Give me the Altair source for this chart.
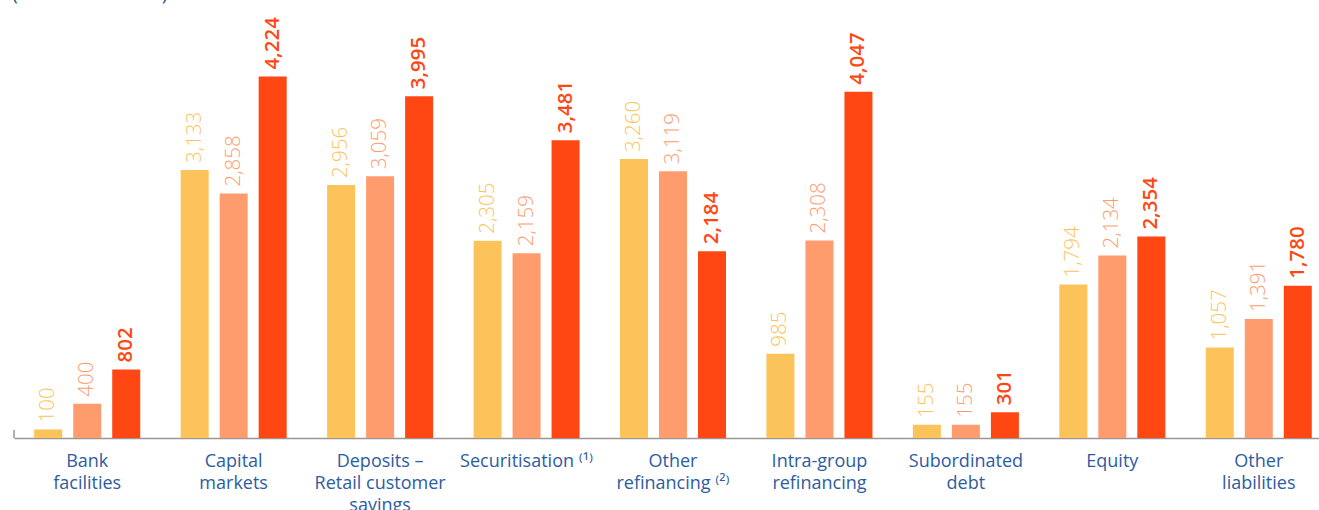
import altair as alt
import pandas as pd

categories = ["Bank|facilities", "Capital|markets", "Deposits –|Retail customer|savings",
              "Securitisation ⁽¹⁾", "Other|refinancing ⁽²⁾", "Intra-group|refinancing",
              "Subordinated|debt", "Equity", "Other|liabilities"]
series = ["Year 1", "Year 2", "Year 3"]
values_1 = [100, 3133, 2956, 2305, 3260, 985, 155, 1794, 1057]
values_2 = [400, 2858, 3059, 2159, 3119, 2308, 155, 2134, 1391]
values_3 = [802, 4224, 3995, 3481, 2184, 4047, 301, 2354, 1780]
colors = ["#FDC35B", "#FF9C6E", "#FF4714"]
unit_note = "(in million euros)"

rows = []
for vals, s in zip([values_1, values_2, values_3], series):
    for c, v in zip(categories, vals):
        rows.append({"cat": c, "series": s, "value": v})
df = pd.DataFrame(rows)

x = alt.X("cat:N", sort=categories, title=None,
          scale=alt.Scale(paddingInner=0, paddingOuter=0, range=[0, 1318]),
          axis=alt.Axis(labelAngle=0, labelExpr="split(datum.label, '|')", labelColor="#2D5CA1",
                        labelFont="Open Sans", labelFontSize=18, labelLineHeight=22,
                        labelPadding=14, ticks=False, domainColor="#9E9494", domainWidth=1.5,
                        labelBaseline="top"))
xo = alt.XOffset("series:N", sort=series,
                 scale=alt.Scale(paddingInner=0.282, paddingOuter=0.518))
color = alt.Color("series:N", sort=series, scale=alt.Scale(domain=series, range=colors), legend=None)
y = alt.Y("value:Q", scale=alt.Scale(domain=[0, 4500]), axis=None)

base = alt.Chart(df)
bars = base.mark_bar().encode(x=x, xOffset=xo, y=y, color=color)
labels_light = base.transform_filter(alt.datum.series != "Year 3").mark_text(
    angle=270, align="left", baseline="middle", dx=7, font="Open Sans", fontSize=20.5, fontWeight=300
).encode(x=x, xOffset=xo, y=y, color=color, text=alt.Text("value:Q", format=","))
labels_bold = base.transform_filter(alt.datum.series == "Year 3").mark_text(
    angle=270, align="left", baseline="middle", dx=7, font="Open Sans", fontSize=20.5, fontWeight=600
).encode(x=x, xOffset=xo, y=y, color=color, text=alt.Text("value:Q", format=","))

tick = alt.Chart(pd.DataFrame({"a": [0]})).mark_rule(color="#9E9494", strokeWidth=1.5).encode(
    x=alt.value(0), y=alt.value(377), y2=alt.value(385))
note = alt.Chart(pd.DataFrame({"t": [unit_note]})).mark_text(
    align="left", baseline="alphabetic", font="Open Sans", fontSize=20, color="#2D5CA1"
).encode(x=alt.value(-2), y=alt.value(-53), text="t:N")

chart = alt.layer(bars, labels_light, labels_bold, tick, note).properties(
    width=1305, height=385,
    autosize=alt.AutoSizeParams(type="none"),
    padding={"left": 14, "top": 53, "right": 0, "bottom": 72},
).configure_view(stroke=None)

chart.save("out.html", embed_options={"renderer": "svg", "actions": False})
